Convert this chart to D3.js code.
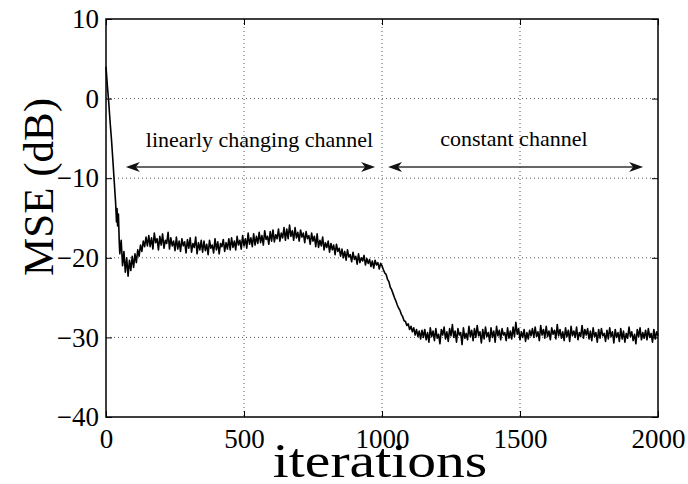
<!DOCTYPE html>
<html><head><meta charset="utf-8">
<script src="https://cdn.jsdelivr.net/npm/d3@7"></script>
<style>
body{margin:0;background:#fff;}
svg text{font-family:"Liberation Serif","Times New Roman",Times,serif !important;fill:#000;}
</style></head>
<body><svg id="c" width="688" height="484"></svg>
<script>
// early samples (explicit iterations) then samples every 5 iterations from 155 to 2000
const earlyIterations = [0,5,10,15,20,25,30,35,38,40,42,45,48,50,55,60,65,70,75,80,85,90,95,100,105,110,115,120,125,130,135,140,145,150];
const earlyMse = [4.0,1.6,-0.5,-3.0,-5.2,-7.8,-10.5,-13.2,-15.5,-13.8,-16.0,-14.5,-18.0,-19.5,-17.8,-21.0,-19.2,-21.8,-20.0,-22.3,-20.3,-21.6,-19.8,-21.2,-19.5,-20.6,-19.0,-19.8,-18.4,-19.2,-17.9,-18.6,-17.4,-18.5];
const lateStart = 155, lateStep = 5;
const lateMse = [
-17.2,-18.6,-17.5,-18.9,-16.9,-18.1,-17.6,-19.0,-17.3,-18.4,-17.0,-18.8,-17.8,-18.2,-16.8,-18.9,-17.5,-18.5,-17.9,-19.1,
-17.4,-18.9,-17.9,-19.2,-17.6,-18.5,-18.0,-19.4,-17.7,-18.8,-17.5,-19.3,-18.2,-18.7,-17.4,-19.5,-18.1,-19.0,-17.8,-19.3,
-17.9,-19.1,-18.3,-19.6,-17.8,-18.8,-18.4,-19.4,-17.6,-19.0,-18.0,-19.5,-18.2,-18.6,-17.7,-19.2,-18.1,-18.9,-17.6,-19.0,
-17.5,-18.7,-17.9,-19.0,-17.3,-18.4,-17.8,-18.9,-17.2,-18.5,-17.6,-18.8,-16.9,-18.3,-17.5,-18.6,-17.0,-18.4,-17.3,-18.2,
-16.8,-18.1,-17.2,-18.4,-16.6,-17.7,-17.3,-18.3,-16.7,-17.9,-16.5,-18.0,-17.1,-17.6,-16.4,-17.9,-16.9,-17.5,-16.2,-17.8,
-16.4,-17.6,-15.9,-17.3,-16.6,-17.8,-16.2,-17.5,-16.8,-17.9,-16.5,-17.4,-16.9,-18.1,-16.7,-17.6,-17.2,-18.3,-16.9,-17.9,
-17.3,-18.6,-17.0,-18.7,-17.8,-18.5,-17.4,-19.0,-18.1,-18.7,-17.9,-19.3,-18.2,-19.0,-18.4,-19.6,-18.3,-19.2,-18.8,-19.8,
-18.9,-20.0,-19.2,-20.3,-19.0,-19.9,-19.6,-20.5,-19.3,-20.2,-19.8,-20.8,-19.5,-20.6,-20.0,-20.4,-19.7,-20.9,-20.1,-20.7,
-20.2,-21.1,-20.4,-21.3,-20.3,-20.9,-20.6,-21.4,-20.7,-21.0,
-21.5,-21.9,-22.1,-22.7,-23.0,-23.7,-24.0,-24.5,-25.0,-25.4,
-25.9,-26.3,-26.6,-27.1,-27.4,-27.9,-28.0,-28.5,-28.3,-29.0,
-28.6,-29.3,-28.8,-29.7,-29.0,-29.9,-29.2,-30.2,-29.1,-30.0,
-29.0,-30.3,-29.4,-30.6,-28.8,-29.9,-29.2,-30.4,-28.9,-30.1,-29.6,-30.8,-29.0,-29.7,-28.7,-30.2,-29.3,-30.5,-28.9,-29.8,
-28.4,-30.0,-29.2,-30.6,-28.9,-29.7,-29.4,-30.9,-28.8,-30.1,-29.5,-30.3,-28.6,-29.9,-29.1,-30.4,-28.9,-30.0,-28.5,-29.8,
-29.3,-30.7,-29.0,-30.2,-28.7,-29.9,-29.4,-30.5,-28.8,-30.0,-29.2,-30.6,-28.6,-29.8,-29.1,-30.3,-28.9,-29.7,-29.4,-30.4,
-28.8,-30.1,-29.2,-30.2,-28.7,-29.9,-28.1,-29.6,-28.9,-30.3,-29.3,-30.0,-29.0,-30.5,-29.4,-30.2,-29.1,-29.8,-28.9,-30.0,
-28.7,-29.9,-29.3,-30.4,-28.5,-29.7,-29.0,-30.1,-28.6,-29.9,-29.2,-30.3,-28.8,-29.6,-29.1,-30.2,-28.4,-29.8,-29.0,-30.1,
-29.3,-30.4,-28.8,-29.9,-29.1,-30.5,-28.6,-29.8,-29.2,-30.0,-28.7,-30.3,-29.4,-29.9,-28.5,-30.1,-29.0,-29.7,-28.9,-30.2,
-29.2,-30.4,-28.8,-29.9,-29.4,-30.6,-29.0,-30.1,-28.9,-29.8,-29.5,-30.5,-29.1,-30.2,-28.8,-29.9,-29.3,-30.7,-29.0,-30.0,
-29.4,-30.5,-28.9,-30.2,-29.2,-30.6,-29.5,-30.1,-28.7,-29.9,-29.3,-30.4,-29.6,-30.8,-29.0,-29.9,-28.8,-30.3,-29.4,-30.1,
-29.1,-30.3,-28.9,-30.0,-29.5,-30.6,-29.0,-30.2,-29.3,-29.8];
const xTicks = [0,500,1000,1500,2000];
const yTicks = [10,0,-10,-20,-30,-40];
const gridX = [500,1000,1500];
const gridY = [0,-10,-20,-30];
const annotLabels = ["linearly changing channel","constant channel"];
const annotCenterX = [556,1478];
const annotTextY = [-6.1,-5.95];
const arrowFrom = [72,1022];
const arrowTo = [975,1946];
const arrowY = -8.6;

const samples = earlyIterations.map((it,i)=>({it, v:earlyMse[i]}))
  .concat(lateMse.map((v,i)=>({it: lateStart + i*lateStep, v})));

const FONT = '"Liberation Serif","Times New Roman",Times,serif';
const svg = d3.select("#c");
svg.append("rect").attr("width",688).attr("height",484).attr("fill","#fff");
const L=106,R=658,T=19,B=417;
const x = d3.scaleLinear().domain([0,2000]).range([L,R]);
const y = d3.scaleLinear().domain([-40,10]).range([B,T]);

// grid
const g = svg.append("g");
g.selectAll(".gx").data(gridX).enter().append("line")
 .attr("x1",d=>x(d)).attr("x2",d=>x(d)).attr("y1",T).attr("y2",B)
 .attr("stroke","#555").attr("stroke-width",1).attr("stroke-dasharray","1,3");
g.selectAll(".gy").data(gridY).enter().append("line")
 .attr("y1",d=>y(d)).attr("y2",d=>y(d)).attr("x1",L).attr("x2",R)
 .attr("stroke","#555").attr("stroke-width",1).attr("stroke-dasharray","1,3");

// curve
const line = d3.line().x(d=>x(d.it)).y(d=>y(d.v));
svg.append("path").datum(samples).attr("d",line).attr("fill","none")
 .attr("stroke","#000").attr("stroke-width",1.6).attr("stroke-linejoin","round");

// axes (ticks inward on all sides)
const tl = 6, fmt = d3.format("d");
svg.append("g").attr("transform",`translate(0,${B})`)
 .call(d3.axisBottom(x).tickValues(xTicks).tickSizeInner(-tl).tickSizeOuter(0).tickPadding(12).tickFormat(fmt))
 .call(a=>{a.select(".domain").remove(); a.selectAll("text").attr("dy","0.71em");});
svg.append("g").attr("transform",`translate(0,${T})`)
 .call(d3.axisTop(x).tickValues(xTicks).tickSizeInner(-tl).tickSizeOuter(0).tickFormat(""))
 .call(a=>a.select(".domain").remove());
svg.append("g").attr("transform",`translate(${L},0)`)
 .call(d3.axisLeft(y).tickValues(yTicks).tickSizeInner(-tl).tickSizeOuter(0).tickPadding(7).tickFormat(fmt))
 .call(a=>a.select(".domain").remove());
svg.append("g").attr("transform",`translate(${R},0)`)
 .call(d3.axisRight(y).tickValues(yTicks).tickSizeInner(-tl).tickSizeOuter(0).tickFormat(""))
 .call(a=>a.select(".domain").remove());
svg.selectAll(".tick line").attr("stroke","#000").attr("stroke-width",1);
svg.selectAll(".tick text").style("font-family",FONT).style("font-size","27px");
svg.append("rect").attr("x",L).attr("y",T).attr("width",R-L).attr("height",B-T)
 .attr("fill","none").attr("stroke","#000").attr("stroke-width",1.5);

// annotations
annotLabels.forEach((t,i)=>{
  svg.append("text").attr("x",x(annotCenterX[i])).attr("y",y(annotTextY[i]))
   .attr("text-anchor","middle").style("font-family",FONT).style("font-size","22px").text(t);
  const x1=x(arrowFrom[i]), x2=x(arrowTo[i]), yy=y(arrowY);
  svg.append("line").attr("x1",x1+4).attr("x2",x2-4).attr("y1",yy).attr("y2",yy)
   .attr("stroke","#333").attr("stroke-width",1.4);
  const head=(tx,dir)=>`M${tx},${yy} L${tx+dir*14},${yy-5} L${tx+dir*10},${yy} L${tx+dir*14},${yy+5} Z`;
  svg.append("path").attr("d",head(x1,1)).attr("fill","#111");
  svg.append("path").attr("d",head(x2,-1)).attr("fill","#111");
});

// axis titles
svg.append("text").attr("transform","translate(380,477) scale(1.2,1)").attr("text-anchor","middle")
 .style("font-family",FONT).style("font-size","48px").text("iterations");
svg.append("text").attr("transform","translate(53,187) rotate(-90)").attr("text-anchor","middle")
 .style("font-family",FONT).style("font-size","43px").text("MSE (dB)");
</script></body></html>
